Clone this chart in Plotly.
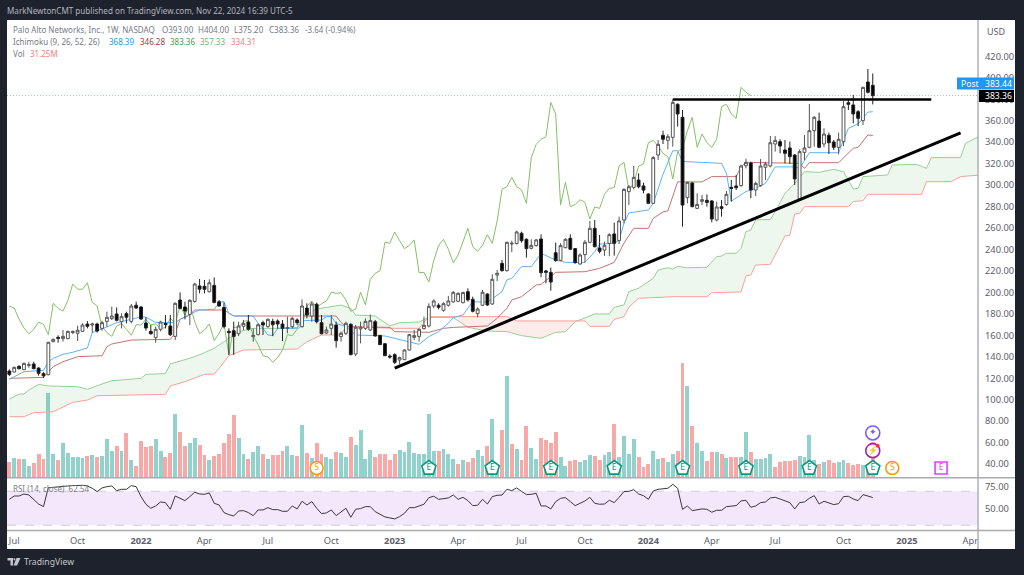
import numpy as np
import pandas as pd
import plotly.graph_objects as go

W, H = 1024, 575
def px(x): return x / W
def py(y): return 1 - y / H

# weekly bars: bar number k (1-based) -> Monday date
weeks = pd.date_range("2021-06-28", periods=210, freq="7D")
def wk(bars): return [weeks[k - 1] for k in bars]

open_ = [126.7,125.8,131.1,128,132,133.3,129.5,124.3,123.3,154.1,
158.1,156.9,156.9,162.5,161.9,163.7,170.5,169.6,170.5,166.5,
173,175.5,179.9,172.7,180.2,173,188,186.4,171.5,163.7,
157.8,165.6,171.1,168.7,159,192.9,186.4,179.5,191.6,206,
205.7,200.6,206.6,191.3,186,163.7,164.3,161.5,168.4,172.4,
158.7,160.6,171.8,168.1,173,173.3,170.5,166.5,168.1,174.3,
168.1,185.4,178,188.9,171.8,162.2,166.5,169.6,158.8,161.9,
170.3,142.6,165.9,166.5,165,172.7,160,152.2,140.7,142,
137,137.3,146.3,158.1,159,166.2,168.7,187.3,188,183.3,
188,191.1,191.7,190.4,200.7,193.6,180.2,188,198.5,189.2,
216.2,227.1,220.3,245.1,245.4,255.1,249.5,241.1,243.6,249.8,
220,218.7,237,229.9,241.7,250.4,240.8,226.5,235.2,246.7,
259.7,241.4,239.5,245.7,254.5,248.2,267.5,293.9,297.9,304.7,
299.2,291.7,283,328,346.4,341.7,344.5,375.3,363.2,288.3,
302,278.3,284.9,285.8,285.2,267.5,279.9,281.8,297.9,299.2,
299.5,318.1,320.6,295.4,299.5,316.6,317.8,338.3,340.5,332.7,
334.6,328,287,330.5,335.2,350.7,359.7,338.3,346.4,340.2,
335.2,340.5,376.8,374.7,368.4,360.1,396.1,393]
close = [123.6,130.2,128.9,133.9,132.6,128.9,124.6,122.4,153.5,156.3,
157.2,159,163.7,163.7,164.7,169.6,168.4,170.5,164,171.8,
176.8,178,174,177.4,176.8,187.3,185.4,175.2,166.8,161.5,
165.6,172.4,170.2,160.6,189.8,185.1,182.6,192.6,207.8,203,
202.9,209,190.7,187.3,168.1,162.5,159,168.7,171.1,165.6,
160,169.9,169.6,174.9,169.9,170.5,166.5,167.1,175.8,171.8,
187.3,178.9,189.2,172.7,161.5,165,170.5,155,161.9,171.2,
142,167.5,167.5,173,173.7,159.4,151.3,141,139.8,134.8,
139.2,146.3,160.6,159.7,165.6,169.3,187,192,186.1,189.5,
192,200.1,199.1,199.8,193,182.4,184.5,200.1,188.3,212.2,
217.8,220.3,246.7,245.8,256.3,248.2,240.8,243.9,248.9,218.4,
218.7,209.7,229.6,243.6,249.5,240.2,227.7,234.9,246.7,259.7,
242.6,238.3,243.9,253.8,245.7,266.6,296,298.5,307.2,298.5,
295.4,283,325.6,338,342.7,345.1,377.1,366.3,281.4,302.6,
279.9,282,286.4,283.9,268.4,279.6,278.3,291.4,297,297.6,
317.8,321.2,295.4,301.6,317.8,319.7,339.5,341.7,336.4,329.6,
326.5,305.7,331.2,334.6,350.7,363.2,335.2,347.6,339.5,335.2,
342.7,373.1,375.3,366.3,362.2,391.1,386.5,383.36]
high = [128.3,130.8,132,134.5,135.4,135.4,130.2,125.8,153.8,156.9,
160,165,164.3,164.3,169,171.2,173.3,171.8,171.8,173.6,
182,186.7,186,180.5,182,189.2,191.4,187.3,176.8,169.6,
168.1,173.6,178.9,178.9,190.7,200,191.3,193.5,209,212.5,
211.6,212.2,214,192.9,190.7,166.5,172.7,172.7,174.3,178.9,
166.5,171.2,173.6,175.8,175.5,174.9,174.3,177.4,177.4,175.8,
193.5,189.8,191.4,190.4,178.9,168.1,178.9,172.7,163.4,172.7,
171.2,169.6,172.7,175.8,179.3,174.3,160.3,152.5,142.3,143.2,
140.1,147,161.2,165,166.5,177.4,189.8,193.5,189.8,190.8,
196.7,201.3,200.1,200.7,203.8,196,186.1,202.3,199.1,216.9,
220.9,230.2,247.3,248.2,257.6,256.6,250.4,249.5,249.8,254.1,
220.9,223.1,246.4,245.8,250.4,254.1,241.4,236.4,248.9,266.6,
267.5,253.5,247.3,255.1,265,270.6,297,300,317.8,311,
302.3,292.3,327.1,342,350.7,347.6,379.9,376.2,370,303.2,
302.6,292.3,290.8,291.4,286.1,284.6,286.1,294.5,304.7,309.4,
319,324.6,321.8,303.2,324.3,321.8,345.8,345.8,342.7,342,
340.5,329,333.3,346.7,375.6,364.4,367.5,352.9,348.9,342,
348.9,378.4,379.3,384,370,391.7,408.2,404]
low = [122.1,125.2,128.3,127.5,129.8,128.3,122.4,120.2,122.8,153.5,
153.1,154.1,156.3,161.2,154.7,163.1,166.5,162.5,162.5,164.3,
168.1,174.3,173,166.5,171.1,171.1,184.8,174.3,164.3,160.6,
153.1,163.7,166.5,159.3,155.6,184.2,174.9,169.6,190.4,199.1,
199.1,200,189.8,186.7,166.5,141.7,141.7,159.3,165,164.3,
154,160,160.3,167.1,159.3,166.2,154.7,161.9,166.5,169.6,
167.1,175.8,172.7,171.1,160.9,161.2,160.3,148.5,154.1,160.3,
141.4,140.7,152.5,165,164,158.8,151,140.7,138.3,133.3,
133,137,145.7,155.6,154.1,165.6,167.4,185.2,184.2,182,
186.7,190.4,190.8,189.8,191.4,181.4,176.8,187.3,187.3,188.3,
210.6,219.3,219.3,237.4,244.8,246.4,232.4,240.2,242.6,214.1,
208.5,201.6,228.7,229.3,241.1,239.5,226.8,225.6,227.7,245.8,
242,236.4,234,234,234.3,245.1,264.4,281.4,296,297,
292.3,282.4,282.4,323.4,338.3,333.3,335.8,354.5,261.3,283,
279.3,277.7,281.4,279.9,265.3,266.2,270.6,280.8,284.6,295.4,
298.5,315.6,287.7,289.8,298.5,304.7,316.6,331.2,329.6,320.3,
319.7,300.1,286.1,323.4,334.3,335.8,334.3,335.2,329,332.7,
328.7,336.4,370,357.6,355.1,356,385.5,375.2]

# volume in millions, and r/g direction of each volume column
volume = [13.7,17.2,16.1,16.6,9.9,12.3,21,16.6,74.2,20.4,
15.5,30.1,21.3,17.8,17.8,16.9,19,19.6,18.1,18.7,
33.3,22.8,27.2,22.8,38.8,15.5,10.5,31.8,26.6,27.2,
33.3,23.1,18.1,21.6,55.2,39.7,27.2,30.1,34.5,28.6,
19.9,14.9,19,20.4,30.1,37.7,54.6,35,20.4,16.6,
22.5,27.2,20.4,16.6,19.6,19.3,23.4,27.2,19.9,18.7,
45.8,21.6,17.2,29.8,20.4,18.4,16.6,22.2,21.6,17.8,
35.3,28.3,41.5,16.6,24.5,17.8,20.7,21,15.5,20.4,
23.7,22.2,31,21.6,20.7,20.7,55.2,22.8,22.8,24.8,
20.4,16.6,11.7,14.9,13.4,17.2,23.7,19,27.7,51.1,
10.8,41.5,88.8,29.2,24.8,14.9,45.3,25.7,16.1,34.5,
32.7,30.1,40.3,18.4,9.9,14.3,15.5,13.4,15.5,19.6,
19,14.9,20.1,22.2,47,17.8,36.2,20.4,33.9,18.4,
9.1,11.7,22.8,16.6,17.2,13.4,21,23.1,100.4,80,
45.3,29.8,23.4,14.3,22.2,22.2,21,17.2,18.4,18.4,
17.8,39.7,22.2,16.1,16.1,17.2,20.4,9.1,13.4,14.3,
14.3,15.5,19,18.4,37.1,14.9,11.7,13.4,15.5,12.3,
13.4,14.9,12.8,11.1,11.7,11.1,11.7,31.25]
volume_dir = ("rgrggrrrgg" "rgggggrgrg" "ggrgrgrrrr" "ggrrgrrggr"
              "rgrrrrrggr" "ggrgrrrggr" "grgrrggrgg" "rggggrrrrr"
              "ggggggggrg" "ggrgrrggrg" "grgrgrrggr" "rrrggrrggg"
              "rrggrggggr" "rrggrggrrg" "rggrrgrgrr" "ggrggggrrr"
              "rrggggrgrr" "ggrrrgrr")

rsi = [60.5,64.4,64.4,66.8,65.6,60.5,55,51.9,74.3,74.6,
75.4,76.2,76.2,76.6,77,77,76.2,73.5,69.6,73.9,
75.4,76.2,70.7,72.3,72.3,76.6,75.4,63.7,54.7,50,
52.7,57.4,56.6,48.8,64.4,61.7,59,63.7,68.8,66.8,
66.4,68,55.8,53.9,44.9,42.5,40.9,46.8,47.2,44.9,
41.3,48,48,50.7,48.4,48.4,46.4,46.4,52.7,49.2,
58.2,53.9,57.8,50,43.7,44.5,48,41.3,46,50,
39.4,48.8,49.6,51.9,51.9,46,42.9,39.8,38.6,37.4,
40.2,44.1,50.7,50.7,52.7,54.7,62.5,64.1,60.5,61.3,
62.1,65.6,60.5,62.9,59,53.1,53.5,60.5,55,63.7,
65.2,65.6,72.3,70.7,73.9,69.9,66,66.4,67.6,52.7,
52.7,49.2,57.8,61.7,62.5,57.8,53.1,55.8,58.6,62.9,
55.8,54.7,55,59.4,56.6,62.9,69.6,69.9,71.9,66.8,
64.8,60.5,70.3,72.3,72.7,73.5,78.2,73.5,48.8,52.7,
47.2,48.4,49.2,48.8,45.3,47.6,47.6,51.9,52.7,53.1,
58.6,59.4,51.1,52.7,56.6,57.4,62.1,62.9,60.9,58.6,
56.6,49.2,56.6,57.4,61.7,64.8,55,58.2,55.8,54.3,
55.4,63.7,64.1,60.9,59,66,64.4,62.54]

# Ichimoku polylines, vertices: bar number, value
conv_bars = [1,4,8,9,10,12,14,17,18,20,23,25,26,28,29,31,35,36,38,40,43,44,45,46,47,51,52,53,54,55,56,60,61,65,66,67,68,70,72,78,80,83,85,87,89,91,92,94,96,99,102,103,104,106,108,110,113,115,119,121,122,125,126,127,128,132,133,135,137,138,139,147,148,149,152,154,156,158,162,163,165,171,173,175,177,178]
conv_vals = [119,126.1,127.4,135.4,138.5,142.3,144.2,148.2,162.5,165.9,171.8,173.6,174.9,177.4,176.8,172,171.8,174.9,179.9,183.6,184.2,190.7,191.4,180.5,178,178,171.2,166.5,160.3,159.7,166.5,166.5,173.6,174.3,177.4,177.4,171.2,168,160.3,159.4,157.2,153.5,151.6,158.8,163.4,171.2,176.5,179,191.4,190.8,200.7,211.6,213.1,224,224,236.4,230.2,228,228,238,245.1,245.7,248.8,264.4,274,276.8,283,310,332,332,322,320.3,311,285,294,297,301.6,317,317,315.6,330.2,330.2,352.9,357,368,368.39]
base_bars = [1,8,10,12,15,20,21,22,26,34,35,36,37,38,39,45,47,68,69,70,79,80,87,90,92,99,101,103,104,106,109,110,112,113,119,122,125,127,129,132,133,135,136,138,143,145,150,151,152,163,164,165,171,174,175,177,178]
base_vals = [119.9,120.8,130.8,135.4,140.1,141,149.4,151.9,155.6,156.3,162,174.9,176.8,178.9,183.6,183.6,178,178,172,168,167.4,163.4,162.8,166.5,167.4,168.7,175.8,185.2,192.9,196,206.9,207.5,214.7,218.7,219.3,222.4,228,246,259.7,259.7,269,275,276,303,303,307.9,307.9,317,321.2,320.3,315.6,320.9,320.9,334.3,335.2,346.7,346.28]
leada_bars = [1,3,4,5,7,9,15,17,20,22,28,29,33,34,36,39,41,43,45,48,51,57,60,61,64,69,71,72,76,79,81,85,87,90,92,95,99,103,106,110,113,115,117,121,124,125,127,128,130,133,134,136,137,138,140,144,146,147,148,150,151,152,153,154,157,158,160,162,164,167,170,172,174,175,176,181,182,187,189,190,196,197,200]
leada_vals = [100.5,105.3,105.3,109,114.3,112.8,112.1,109.7,114.6,117.7,119.9,123.6,124.3,133.3,136,140.1,143.8,148,154,163.4,166.5,166.5,167.4,177,184.5,188.2,185,178.9,178,168.7,171.8,172.4,176.8,176.8,176.5,167.5,164,163.4,159.7,157.2,162.8,163.4,172.7,179.9,179.9,186.1,188.3,200.7,203.8,213.1,220.9,223,221.8,224.3,223,223.4,233.3,233.9,236.4,236.4,241,256.6,258.2,267.5,268.1,275.2,292.3,301.6,312.5,311.9,314.7,312.5,296.4,297,307.9,309.4,318.7,319.3,315.6,325.6,325.6,338.9,345.8]
leadb_bars = [1,4,6,10,14,17,19,33,34,37,41,43,44,46,49,60,62,65,69,70,80,85,87,103,105,119,120,124,125,127,128,130,137,144,145,151,152,153,154,157,160,161,162,163,164,173,174,176,177,188,189,194,196,200]
leadb_vals = [84.2,84.2,87.9,88.8,97.5,99.7,103.7,105,112.8,116.8,123.6,123.9,129.2,141,146.3,147.2,154,160.3,160.3,168.1,166.5,166.5,177.4,177.4,173.4,173.4,168.4,168.4,174.9,177.4,186.1,194.5,196,196,199.7,200.4,215.3,216.2,225.5,226.2,252.6,253.2,273.1,273.7,279.9,279.9,284.6,285.5,291.4,291.4,303.2,303.2,307.9,309.4]
lag_offset = 25   # lagging span: the closes, plotted 25 bars back

# hand-drawn lines on the published chart
rise_bars, rise_vals = [80, 196], [129.5, 348.7]
shelf_bars, shelf_vals = [137, 190], [379.8, 379.8]

# event badges
earn_bars = [87, 100, 112, 125, 139, 152, 165, 178]
split_bars = [64, 182]
future_earn_bars = [192]

month_bars = [2,15,28,41,54,67,80,93,106,119,132,145,158,172,185,198]
month_text = ["Jul","Oct","<b>2022</b>","Apr","Jul","Oct","<b>2023</b>","Apr","Jul","Oct","<b>2024</b>","Apr","Jul","Oct","<b>2025</b>","Apr"]
price_ticks = list(range(40, 421, 20))
rsi_ticks = [50, 75]
rsi_band = [30, 70]

for s in (open_, high, low, close, volume, rsi):
    assert len(s) == 178, len(s)
assert len(volume_dir) == 178, len(volume_dir)

bars = np.arange(1, 179)
x_all = wk(bars)

GREEN_VOL = "rgba(38,166,154,0.5)"
RED_VOL = "rgba(239,83,80,0.5)"
TXT = "#777a85"
FONT = "Noto Sans"
WEEK_MS = 7 * 24 * 3600 * 1000

fig = go.Figure()
# volume (bottom layer)
fig.add_trace(go.Bar(x=x_all, y=volume, yaxis="y",
                     marker=dict(color=[GREEN_VOL if d == "g" else RED_VOL for d in volume_dir], line_width=0),
                     width=WEEK_MS * 0.8,
                     hoverinfo="skip", showlegend=False))

# cloud fill between the two lead lines (polygons follow the drawn polylines)
grid = np.arange(1, 200.01, 0.25)
a = np.interp(grid, leada_bars, leada_vals)
b = np.interp(grid, leadb_bars, leadb_vals)
def to_date(g):
    return [weeks[0] + pd.Timedelta(days=float((v - 1) * 7)) for v in g]
sign = a >= b
start = 0
for i in range(1, len(grid) + 1):
    if i == len(grid) or sign[i] != sign[start]:
        g = grid[start:min(i + 1, len(grid))]
        ya = a[start:min(i + 1, len(grid))]
        yb = b[start:min(i + 1, len(grid))]
        fig.add_trace(go.Scatter(x=to_date(g) + to_date(g[::-1]), y=list(ya) + list(yb[::-1]), yaxis="y2",
                                 fill="toself", mode="none",
                                 fillcolor="rgba(76,175,80,0.10)" if sign[start] else "rgba(244,67,54,0.10)",
                                 hoverinfo="skip", showlegend=False))
        start = i

def line(xb, yv, color, yaxis="y2", width=1):
    fig.add_trace(go.Scatter(x=wk(xb), y=yv, yaxis=yaxis, mode="lines",
                             line=dict(color=color, width=width), hoverinfo="skip", showlegend=False))

line(leada_bars, leada_vals, "#96d096")
line(leadb_bars, leadb_vals, "#fb9f9b")
line(list(range(1, 154)), close[lag_offset:], "#85c066")
line(base_bars, base_vals, "#c27473")
line(conv_bars, conv_vals, "#5cb3fb")

# candles
fig.add_trace(go.Candlestick(x=x_all, open=open_, high=high, low=low, close=close, yaxis="y3",
                             increasing=dict(line=dict(color="#555555", width=1), fillcolor="#ffffff"),
                             decreasing=dict(line=dict(color="#222222", width=1), fillcolor="#000000"),
                             whiskerwidth=0, hoverinfo="skip", showlegend=False))

# drawn trend lines
line(rise_bars, rise_vals, "#000000", yaxis="y4", width=3)
line(shelf_bars, shelf_vals, "#000000", yaxis="y4", width=2.5)

# badges
def badge(bars_, level, symbol, color, label, size=13, tsize=8):
    fig.add_trace(go.Scatter(x=wk(bars_), y=[level] * len(bars_), yaxis="y4", mode="markers+text",
                             marker=dict(symbol=symbol, size=size, color="#ffffff", line=dict(color=color, width=1.6)),
                             text=[label] * len(bars_), textposition="middle center",
                             textfont=dict(color=color, size=tsize, family=FONT),
                             hoverinfo="skip", showlegend=False, cliponaxis=False))
badge(earn_bars, 36.3, "pentagon", "#089981", "E", size=15, tsize=8.5)
badge(split_bars, 36.3, "circle", "#ff9800", "S", size=13, tsize=8.5)
badge(future_earn_bars, 36.3, "square", "#e040fb", "E", size=12, tsize=8.5)
badge([178], 69, "circle", "#7c5cff", "✦", size=14, tsize=9)
badge([178], 52.5, "circle", "#9c27b0", "⚡", size=14, tsize=8)
fig.add_trace(go.Scatter(x=wk([179]), y=[57], yaxis="y4", mode="markers",
                         marker=dict(size=4, color="#f23645"), hoverinfo="skip", showlegend=False))

# RSI
fig.add_trace(go.Scatter(x=x_all, y=rsi, yaxis="y5", mode="lines",
                         line=dict(color="#3a3a3a", width=1), hoverinfo="skip", showlegend=False))

x_dom = [px(7), px(978)]
main_dom = [py(477.5), py(20)]
rsi_dom = [py(530.5), py(478.5)]
p_range = [(507 - 477.5) / 1.073, (507 - 20) / 1.073]
v_range = [0, 457.5 * 0.876]
r_range = [75 - (530.5 - 487) / 0.85, 75 + (487 - 478.5) / 0.85]

tickf = dict(size=9.3, color="#5d606b", family=FONT)
layout = dict(
    width=W, height=H, margin=dict(l=0, r=0, t=0, b=0), autosize=False,
    paper_bgcolor="#1e222d", plot_bgcolor="rgba(0,0,0,0)", showlegend=False, bargap=0,
    boxgap=0.42, boxgroupgap=0,
    xaxis=dict(domain=x_dom, anchor="y5", type="date",
               range=[weeks[0] - pd.Timedelta(days=3.35), weeks[0] + pd.Timedelta(days=1390)],
               tickmode="array", tickvals=wk(month_bars), ticktext=month_text,
               tickfont=tickf, ticklen=0, showgrid=False, zeroline=False, showline=False,
               rangeslider=dict(visible=False), ticklabelstandoff=3),
    yaxis=dict(domain=main_dom, range=v_range, visible=False, anchor="x"),
    yaxis2=dict(overlaying="y", range=p_range, side="right", anchor="x", tickmode="array",
                tickvals=price_ticks, ticktext=[f"{v:.2f}" for v in price_ticks], tickfont=tickf,
                ticklen=0, showgrid=False, zeroline=False, showline=False, ticklabelstandoff=6),
    yaxis3=dict(overlaying="y", range=p_range, visible=False, anchor="x"),
    yaxis4=dict(overlaying="y", range=p_range, visible=False, anchor="x"),
    yaxis5=dict(domain=rsi_dom, range=r_range, side="right", anchor="x", tickmode="array",
                tickvals=rsi_ticks, ticktext=[f"{v:.2f}" for v in rsi_ticks], tickfont=tickf,
                ticklen=0, showgrid=False, zeroline=False, showline=False, ticklabelstandoff=6),
)
fig.update_layout(**layout)

shapes = [
    dict(type="rect", xref="paper", yref="paper", x0=px(7), x1=px(1015), y0=py(549), y1=py(20),
         fillcolor="#ffffff", line_width=0, layer="below"),
    dict(type="rect", xref="paper", yref="y5", x0=px(7), x1=px(978), y0=rsi_band[0], y1=rsi_band[1],
         fillcolor="#f3e7fc", line_width=0, layer="below"),
    dict(type="line", xref="paper", yref="y5", x0=px(7), x1=px(978), y0=rsi_band[0], y1=rsi_band[0],
         line=dict(color="#d3cbd9", width=1, dash="dash"), layer="below"),
    dict(type="line", xref="paper", yref="y5", x0=px(7), x1=px(978), y0=rsi_band[1], y1=rsi_band[1],
         line=dict(color="#d3cbd9", width=1, dash="dash"), layer="below"),
    dict(type="line", xref="paper", yref="y2", x0=px(7), x1=px(978), y0=383.44, y1=383.44,
         line=dict(color="#86c5f8", width=1, dash="1px,2px"), layer="below"),
    # pane separators
    dict(type="line", xref="paper", yref="paper", x0=px(7), x1=px(1015), y0=py(477.7), y1=py(477.7),
         line=dict(color="#a9abb3", width=1.6)),
    dict(type="line", xref="paper", yref="paper", x0=px(7), x1=px(1015), y0=py(530.5), y1=py(530.5),
         line=dict(color="#a9abb3", width=1.6)),
    dict(type="line", xref="paper", yref="paper", x0=px(978), x1=px(978), y0=py(20), y1=py(549),
         line=dict(color="#a9abb3", width=1.4)),
    # price labels
    dict(type="rect", xref="paper", yref="paper", x0=px(957), x1=px(1014), y0=py(89.5), y1=py(77.5),
         fillcolor="#2196f3", line_width=0),
    dict(type="rect", xref="paper", yref="paper", x0=px(979), x1=px(1014), y0=py(102), y1=py(90),
         fillcolor="#000000", line_width=0),
    # TradingView logo mark
    dict(type="path", xref="paper", yref="paper",
         path=f"M {px(7.5)} {py(558)} L {px(13)} {py(558)} L {px(13)} {py(565.5)} L {px(10.5)} {py(565.5)} L {px(10.5)} {py(560.5)} L {px(7.5)} {py(560.5)} Z",
         fillcolor="#c4c6cc", line_width=0),
    dict(type="path", xref="paper", yref="paper",
         path=f"M {px(16.5)} {py(558)} L {px(20.5)} {py(558)} L {px(17)} {py(565.5)} L {px(13.5)} {py(565.5)} Z",
         fillcolor="#c4c6cc", line_width=0),
    dict(type="circle", xref="paper", yref="paper", x0=px(13.4), x1=px(15.4), y0=py(560.4), y1=py(558.2),
         fillcolor="#c4c6cc", line_width=0),
]
fig.update_layout(shapes=shapes)

def note(x, y, text, color=TXT, size=8, anchor="left", family=FONT):
    fig.add_annotation(xref="paper", yref="paper", x=px(x), y=py(y), text=text, showarrow=False,
                       xanchor=anchor, yanchor="middle", font=dict(color=color, size=size, family=family),
                       borderpad=0, borderwidth=0, align="left")

note(7, 10.5, "MarkNewtonCMT published on TradingView.com, Nov 22, 2024 16:39 UTC-5", color="#b2b5be", size=8.1)
note(13, 29.5, "Palo Alto Networks, Inc., 1W, NASDAQ")
for x_, t_ in [(162, "O393.00"), (198, "H404.00"), (234, "L375.20"), (269, "C383.36"), (305, "-3.64 (-0.94%)")]:
    note(x_, 29.5, t_)
note(13, 41.5, "Ichimoku (9, 26, 52, 26)")
for x_, t_, col in [(109, "368.39", "#2196f3"), (139.7, "346.28", "#a33a3f"), (170, "383.36", "#43a047"),
                    (200, "357.33", "#66bb6a"), (231, "334.31", "#f77c80")]:
    note(x_, 41.5, t_, color=col)
note(13, 53.5, "Vol")
note(29.5, 53.5, "31.25M", color="#f77c80")
note(13, 488, "RSI (14, close)  62.54")
note(996, 31, "USD", color="#5d606b", anchor="center", size=9)
note(961, 83.5, "Post", color="#ffffff", size=8.6)
note(998, 83.5, "383.44", color="#ffffff", anchor="center", size=8.6)
note(998, 96, "383.36", color="#ffffff", anchor="center", size=8.6)
note(24, 562, "TradingView", color="#c4c6cc", size=8.7)

fig.write_html("out.html", config=dict(displayModeBar=False),
               post_script="document.body.style.margin='0';document.body.style.overflow='hidden';")
